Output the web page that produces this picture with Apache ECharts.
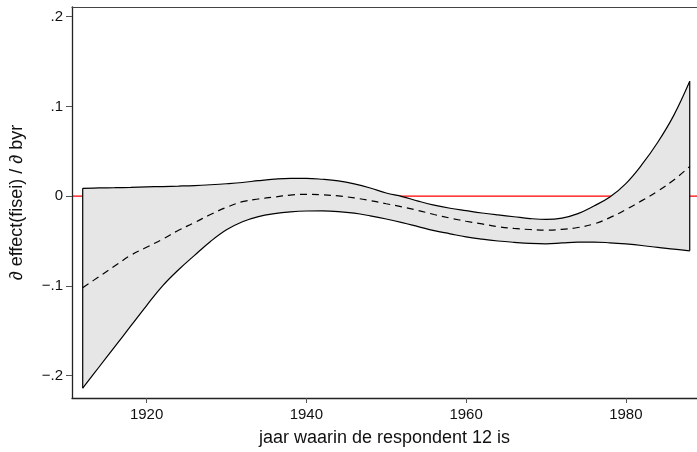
<!DOCTYPE html>
<html><head><meta charset="utf-8">
<script src="https://cdn.jsdelivr.net/npm/echarts@6/dist/echarts.min.js"></script>
<style>html,body{margin:0;padding:0;background:#fff}#c{width:697px;height:452px}</style>
</head><body><div id="c"></div>
<script>
const years = [1912,1914,1916,1918,1920,1922,1924,1926,1928,1930,1932,1934,1936,1938,1940,1942,1944,1946,1948,1950,1952,1954,1956,1958,1960,1962,1964,1966,1968,1970,1972,1974,1976,1978,1980,1982,1984,1986,1988];
const upper = [0.0087,0.0091,0.0094,0.0098,0.0103,0.0107,0.0112,0.0118,0.0127,0.0138,0.0152,0.0172,0.0189,0.0198,0.0198,0.0188,0.0170,0.0137,0.0091,0.0035,-0.0005,-0.0055,-0.0100,-0.0135,-0.0162,-0.0188,-0.0210,-0.0230,-0.0250,-0.0260,-0.0245,-0.0195,-0.0110,-0.0010,0.0140,0.0350,0.0600,0.0900,0.1280];
const mean  = [-0.102,-0.090,-0.078,-0.066,-0.057,-0.048,-0.038,-0.0295,-0.0205,-0.0125,-0.0062,-0.0032,-0.0010,0.0012,0.0020,0.0015,0.0002,-0.0020,-0.0050,-0.0085,-0.0120,-0.0160,-0.0205,-0.0245,-0.0280,-0.0310,-0.0340,-0.0360,-0.0372,-0.0378,-0.0370,-0.0350,-0.0310,-0.0240,-0.0150,-0.0050,0.0055,0.0180,0.0330];
const lower = [-0.214,-0.191,-0.168,-0.145,-0.122,-0.100,-0.082,-0.0660,-0.0505,-0.0375,-0.0285,-0.0228,-0.0195,-0.0175,-0.0166,-0.0165,-0.0172,-0.0190,-0.0220,-0.0255,-0.0295,-0.0340,-0.0385,-0.0420,-0.0455,-0.0480,-0.0500,-0.0515,-0.0527,-0.0532,-0.0522,-0.0512,-0.0512,-0.0520,-0.0533,-0.0550,-0.0572,-0.0590,-0.0610];
const xTicks = [1920,1940,1960,1980];
const yTicks = [-0.2,-0.1,0,0.1,0.2];
const yTickLabels = ['\u2212.2','\u2212.1','0','.1','.2'];
const xName = 'jaar waarin de respondent 12 is';
const yName = '\u2202 effect(fisei) / \u2202 byr';
const xMin = 1910.66, xMax = 1988.91, yMin = -0.225, yMax = 0.2108;

const FONT = '"Liberation Sans", Arial, Helvetica, sans-serif';
const n = years.length;
const pair = (a) => years.map((y,i)=>[y,a[i]]);
const SM = 0.4;

const chart = echarts.init(document.getElementById('c'), null, {renderer:'canvas'});
chart.setOption({
  animation:false,
  backgroundColor:'#fff',
  grid:{left:71, top:7, right:0, bottom:53.5},
  xAxis:[{
    type:'value', min:xMin, max:xMax, z:10,
    name:xName, nameLocation:'middle', nameGap:31,
    nameTextStyle:{fontFamily:FONT, fontSize:18, color:'#111'},
    axisLine:{show:true, onZero:false, lineStyle:{color:'#222', width:1.3}},
    axisTick:{show:true, length:5, lineStyle:{color:'#555'}, customValues:xTicks},
    axisLabel:{customValues:xTicks, fontFamily:FONT, fontSize:15, color:'#111', margin:9, formatter:(v)=>String(v)},
    splitLine:{show:false}
  },{
    type:'value', min:xMin, max:xMax, position:'top', z:10,
    axisLine:{show:true, onZero:false, lineStyle:{color:'#444', width:1.2}},
    axisTick:{show:false}, axisLabel:{show:false}, splitLine:{show:false}
  }],
  yAxis:{
    type:'value', min:yMin, max:yMax, z:10,
    name:yName, nameLocation:'middle', nameGap:46,
    nameTextStyle:{fontFamily:FONT, fontSize:18, color:'#111'},
    axisLine:{show:true, onZero:false, lineStyle:{color:'#222', width:1.3}},
    axisTick:{show:true, length:6, lineStyle:{color:'#555'}, customValues:yTicks},
    axisLabel:{customValues:yTicks, fontFamily:FONT, fontSize:15, color:'#111', margin:9,
      formatter:(v)=>{const i=yTicks.findIndex(t=>Math.abs(t-v)<1e-9); return i>=0?yTickLabels[i]:'';}},
    splitLine:{show:false}
  },
  series:[
    {type:'line', data:[[xMin,0],[xMax,0]], symbol:'none', lineStyle:{color:'#ff0000', width:1.4}, z:1, silent:true},
    {type:'line', data:pair(upper), symbol:'none', smooth:SM, lineStyle:{opacity:0},
      areaStyle:{color:'#e6e6e6', opacity:1, origin:'start'}, z:2, silent:true},
    {type:'line', data:pair(lower), symbol:'none', smooth:SM, lineStyle:{opacity:0},
      areaStyle:{color:'#ffffff', opacity:1, origin:'start'}, z:2, silent:true},
    {type:'line', data:[[years[0],yMin],[years[0],lower[0]-0.004]], symbol:'none', lineStyle:{color:'#fff', width:4}, z:2, silent:true},
    {type:'line', data:[[years[n-1],yMin],[years[n-1],lower[n-1]-0.004]], symbol:'none', lineStyle:{color:'#fff', width:4}, z:2, silent:true},
    {type:'line', data:pair(upper), symbol:'none', smooth:SM, lineStyle:{color:'#000', width:1.2}, z:3, silent:true},
    {type:'line', data:pair(lower), symbol:'none', smooth:SM, lineStyle:{color:'#000', width:1.2}, z:3, silent:true},
    {type:'line', data:[[years[0],lower[0]],[years[0],upper[0]]], symbol:'none', lineStyle:{color:'#000', width:1.2}, z:3, silent:true},
    {type:'line', data:[[years[n-1],lower[n-1]],[years[n-1],upper[n-1]]], symbol:'none', lineStyle:{color:'#000', width:1.2}, z:3, silent:true},
    {type:'line', data:pair(mean), symbol:'none', smooth:SM, lineStyle:{color:'#000', width:1.2, type:[7,5]}, z:4, silent:true}
  ]
});
</script>
</body></html>
